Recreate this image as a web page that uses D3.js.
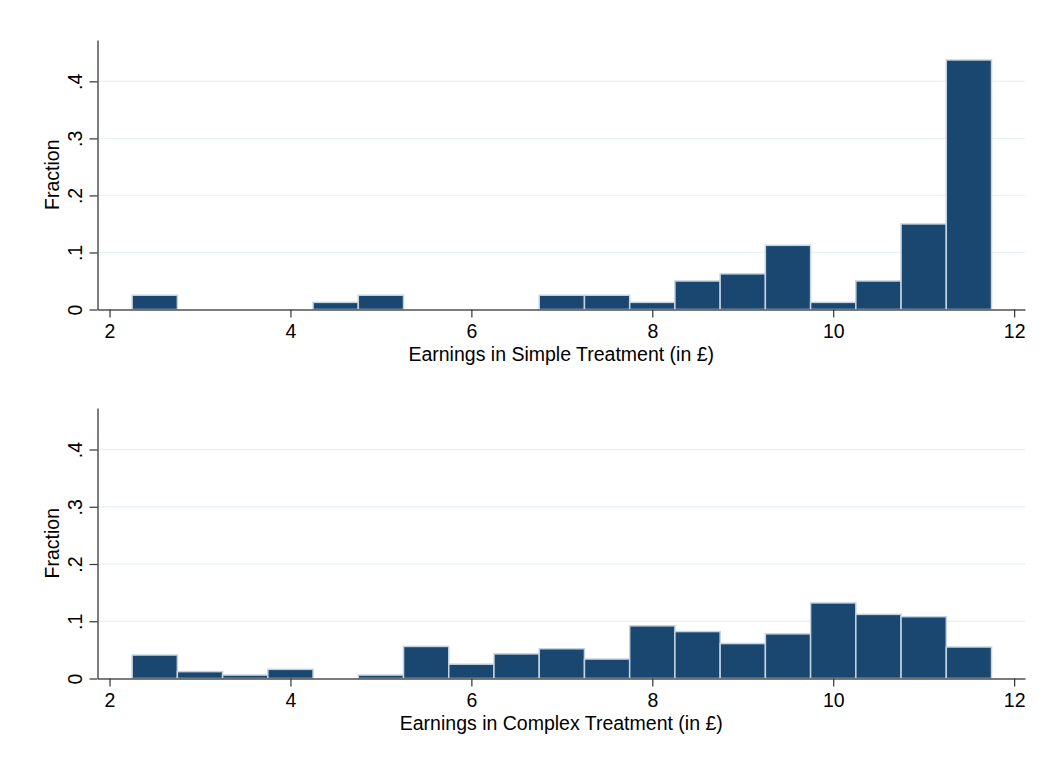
<!DOCTYPE html>
<html>
<head>
<meta charset="utf-8">
<script src="https://cdn.jsdelivr.net/npm/d3@7"></script>
<style>
  body { margin: 0; background: #fff; }
  text { font-family: "Liberation Sans", Arial, Helvetica, sans-serif; fill: #000; }
</style>
</head>
<body>
<div id="chart"></div>
<script>
// histogram bins: lower edges, width 0.5
const binStarts = [2.25, 2.75, 3.25, 3.75, 4.25, 4.75, 5.25, 5.75, 6.25, 6.75,
                   7.25, 7.75, 8.25, 8.75, 9.25, 9.75, 10.25, 10.75, 11.25];
const binWidth = 0.5;

const simpleFraction = [0.025, 0, 0, 0, 0.0125, 0.025, 0, 0, 0, 0.025,
                        0.025, 0.0125, 0.05, 0.0625, 0.1125, 0.0125, 0.05, 0.15, 0.4375];
const complexFraction = [0.041, 0.012, 0.006, 0.016, 0, 0.006, 0.056, 0.025, 0.043, 0.052,
                         0.034, 0.092, 0.082, 0.061, 0.078, 0.132, 0.112, 0.108, 0.055];

const xTicks = [2, 4, 6, 8, 10, 12];
const yTicks = [0, 0.1, 0.2, 0.3, 0.4];
const yTickLabels = ["0", ".1", ".2", ".3", ".4"];

const panelTitles = ["Earnings in Simple Treatment (in £)", "Earnings in Complex Treatment (in £)"];

const width = 1063, height = 773;
const fontSize = '19.5px';

const svg = d3.select('#chart')
    .append('svg')
    .attr('width', width)
    .attr('height', height);

const x = d3.scaleLinear()
    .domain([1.867, 12.12])
    .range([97.5, 1025]);

function drawPanel(top, bottom, values, title) {
    const y = d3.scaleLinear()
        .domain([0, 0.4725])
        .range([bottom, top]);

    const g = svg.append('g');

    // gridlines
    g.selectAll('line.grid')
        .data(yTicks.slice(1))
        .enter()
        .append('line')
        .attr('class', 'grid')
        .attr('x1', x.range()[0])
        .attr('x2', x.range()[1])
        .attr('y1', d => y(d))
        .attr('y2', d => y(d))
        .attr('stroke', '#eaf2f3')
        .attr('stroke-width', 1.3);

    // bars
    const bins = binStarts.map((s, i) => ({ start: s, value: values[i] }))
        .filter(d => d.value > 0);

    g.selectAll('rect.bar')
        .data(bins)
        .enter()
        .append('rect')
        .attr('class', 'bar')
        .attr('x', d => x(d.start))
        .attr('width', d => x(d.start + binWidth) - x(d.start))
        .attr('y', d => y(d.value))
        .attr('height', d => y(0) - y(d.value))
        .attr('fill', '#1a476f')
        .attr('stroke', '#c4d3e0')
        .attr('stroke-width', 1.5);

    // x axis
    const xAxis = d3.axisBottom(x)
        .tickValues(xTicks)
        .tickSize(8)
        .tickSizeOuter(0)
        .tickFormat(d3.format('d'));

    const gx = g.append('g')
        .attr('transform', 'translate(0,' + y(0) + ')')
        .call(xAxis);
    gx.select('.domain').attr('stroke', '#505050').attr('stroke-width', 1.5);
    gx.selectAll('.tick line').attr('stroke', '#333').attr('stroke-width', 1.2);
    gx.selectAll('.tick text')
        .attr('y', 28)
        .attr('dy', null)
        .style('font-size', fontSize);

    // y axis
    const yAxis = d3.axisLeft(y)
        .tickValues(yTicks)
        .tickSize(8)
        .tickSizeOuter(0)
        .tickFormat((d, i) => yTickLabels[i]);

    const gy = g.append('g')
        .attr('transform', 'translate(' + x.range()[0] + ',0)')
        .call(yAxis);
    gy.select('.domain').attr('stroke', '#505050').attr('stroke-width', 1.5);
    gy.selectAll('.tick line').attr('stroke', '#333').attr('stroke-width', 1.2);
    gy.selectAll('.tick text')
        .attr('x', null)
        .attr('dy', null)
        .attr('transform', 'translate(-15.5,0) rotate(-90)')
        .attr('text-anchor', 'middle')
        .style('font-size', fontSize);

    // axis titles
    g.append('text')
        .attr('x', (x.range()[0] + x.range()[1]) / 2)
        .attr('y', y(0) + 51)
        .attr('text-anchor', 'middle')
        .style('font-size', fontSize)
        .text(title);

    g.append('text')
        .attr('transform', 'translate(59,' + (top + bottom) / 2 + ') rotate(-90)')
        .attr('text-anchor', 'middle')
        .style('font-size', fontSize)
        .text('Fraction');
}

drawPanel(40, 309.5, simpleFraction, panelTitles[0]);
drawPanel(408, 678.5, complexFraction, panelTitles[1]);
</script>
</body>
</html>
